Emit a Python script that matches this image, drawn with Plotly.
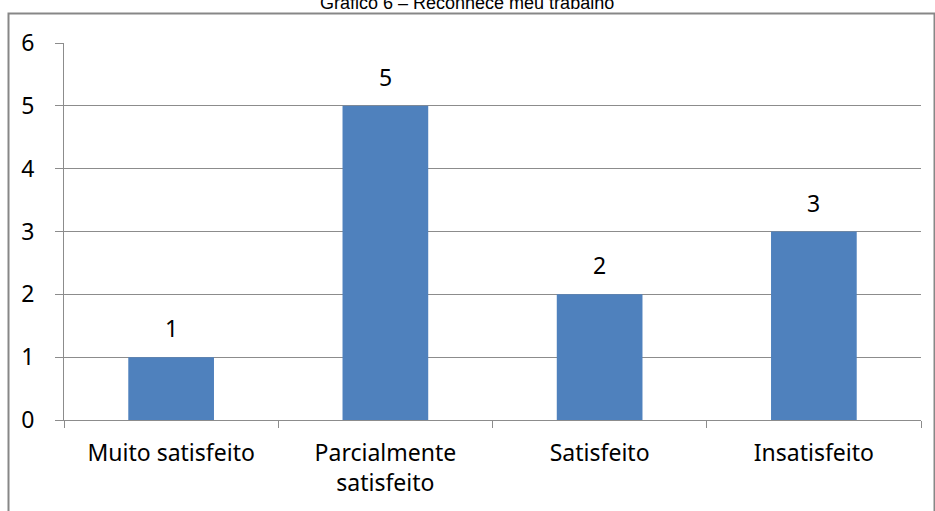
import plotly.graph_objects as go

# Survey answers: "Reconhece meu trabalho"
categorias = ["Muito satisfeito", "Parcialmente<br>satisfeito", "Satisfeito", "Insatisfeito"]
respostas = [1, 5, 2, 3]
ticks_y = [0, 1, 2, 3, 4, 5, 6]
titulo = "Gráfico 6 – Reconhece meu trabalho"

W, H = 935, 511
ML, MR, MT, MB = 64, 14, 43, 91
pw, ph = W - ML - MR, H - MT - MB

grid = "#8c8c8c"
font_fam = "Noto Sans, Open Sans, sans-serif"
fs = 23

fig = go.Figure(
    go.Bar(
        x=categorias,
        y=respostas,
        marker=dict(color="#4F81BD", line=dict(width=0)),
        hoverinfo="skip",
    )
)

# value labels above each bar
for c, v in zip(categorias, respostas):
    fig.add_annotation(
        x=c, y=v, text=str(v), showarrow=False,
        yanchor="bottom", yshift=11,
        font=dict(family=font_fam, size=fs, color="#000000"),
    )

# chart title (sits above the outer frame)
fig.add_annotation(
    xref="paper", yref="paper",
    x=(467 - ML) / pw, y=1 + (MT - 3) / ph,
    text=titulo, showarrow=False, xanchor="center", yanchor="middle",
    font=dict(family="Liberation Sans, Arial, sans-serif", size=18, color="#000000"),
)

# outer chart frame
fig.add_shape(
    type="rect", xref="paper", yref="paper",
    x0=(8.5 - ML) / pw, x1=(934.5 - ML) / pw,
    y0=-(H + 10 - (H - MB)) / ph, y1=1 + (MT - 13.5) / ph,
    line=dict(color="#878787", width=2), fillcolor="rgba(0,0,0,0)",
    layer="below",
)

fig.update_layout(
    width=W, height=H,
    margin=dict(l=ML, r=MR, t=MT, b=MB, pad=0),
    paper_bgcolor="white", plot_bgcolor="white",
    bargap=0.6,
    showlegend=False,
    font=dict(family=font_fam, size=fs, color="#000000"),
    xaxis=dict(
        showgrid=False, showline=True, linecolor=grid, linewidth=1,
        ticks="outside", tickson="boundaries", ticklen=7, tickcolor=grid,
        ticklabelstandoff=12,
        tickfont=dict(family=font_fam, size=fs, color="#000000"),
        fixedrange=True,
    ),
    yaxis=dict(
        range=[0, 6], tickvals=ticks_y, ticktext=[str(t) for t in ticks_y],
        showgrid=True, gridcolor=grid, gridwidth=1,
        showline=True, linecolor=grid, linewidth=1,
        ticks="outside", ticklen=8, tickcolor=grid,
        ticklabelstandoff=16,
        tickfont=dict(family=font_fam, size=fs, color="#000000"),
        zeroline=False, fixedrange=True,
    ),
)

fig.write_html("out.html")
